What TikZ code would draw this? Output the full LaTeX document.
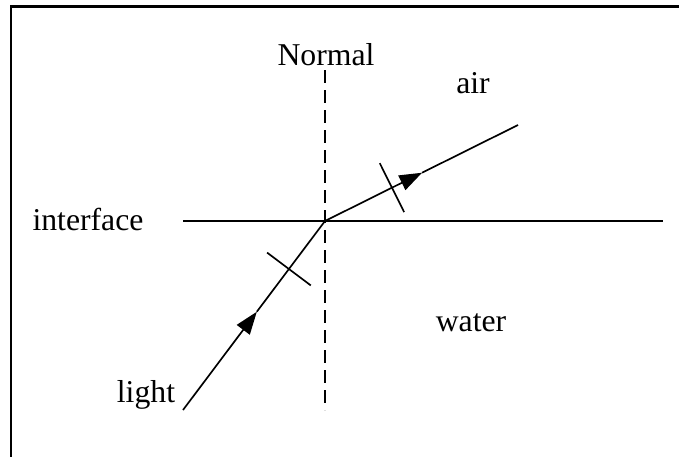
\documentclass[tikz,border=0pt]{standalone}
\usepackage{fontspec}
\setmainfont{Liberation Serif}
\usetikzlibrary{calc,arrows.meta}
\begin{document}
\begin{tikzpicture}[x=0.75pt,y=-0.75pt,
  ray/.style={line width=1.25pt},
  rayarrow/.style={line width=1.25pt,-{Triangle[length=17pt,width=12pt]}},
  tick/.style={line width=1.25pt},
  lbl/.style={font=\fontsize{23.8}{28}\selectfont,anchor=base,inner sep=0pt}]
\useasboundingbox (0,0) rectangle (679,457);
% frame
\draw[line width=1.6pt] (11,457) -- (11,6.5) -- (679,6.5);
% coordinates
\coordinate (S) at (183,410);
\coordinate (O) at (325,221);
\coordinate (E) at (518,125);
\coordinate (IL) at (183,221);
\coordinate (IR) at (663,221);
\coordinate (NT) at (325,70);
\coordinate (NB) at (325,410);
% interface
\draw[ray] (IL) -- (IR);
% normal
\draw[ray,dash pattern=on 10pt off 5pt] (NT) -- (NB);
% incident ray
\coordinate (A1) at ($(S)!0.52!(O)$);
\draw[rayarrow] (S) -- (A1);
\draw[ray] (A1) -- (O);
\coordinate (T1) at ($(S)!0.746!(O)$);
\draw[tick] ($(T1)!20.5pt!90:(O)$) -- ($(T1)!20.5pt!-90:(O)$);
% refracted ray
\coordinate (A2) at ($(O)!0.503!(E)$);
\draw[rayarrow] (O) -- (A2);
\draw[ray] (A2) -- (E);
\coordinate (T2) at ($(O)!0.347!(E)$);
\draw[tick] ($(T2)!20.5pt!90:(E)$) -- ($(T2)!20.5pt!-90:(E)$);
% labels
\node[lbl] (normal) at (326,65) {Normal};
\node[lbl] (air) at (473,93) {air};
\node[lbl] (interface) at (88,230) {interface};
\node[lbl] (water) at (471,331) {water};
\node[lbl] (light) at (146,402) {light};
\end{tikzpicture}
\end{document}
